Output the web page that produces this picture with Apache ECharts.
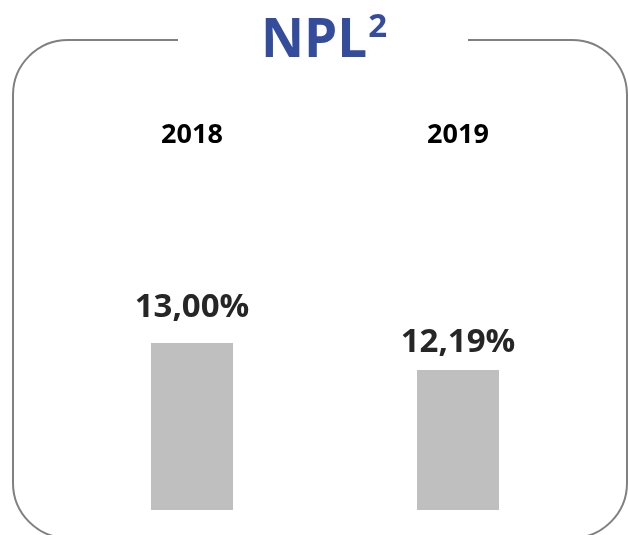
<!DOCTYPE html>
<html>
<head>
<meta charset="utf-8">
<script src="https://cdn.jsdelivr.net/npm/echarts@6/dist/echarts.min.js"></script>
<style>
  html, body { margin: 0; padding: 0; background: #fff; }
  #chart { width: 628px; height: 535px; }
</style>
</head>
<body>
<div id="chart"></div>
<script>
// categories and values
var years = ['2018', '2019']
var npl = [13.00, 12.19]
var labelGap = [19, 11]

var chart = echarts.init(document.getElementById('chart'))

function fmt(v) {
  return v.toFixed(2).replace('.', ',') + '%'
}

chart.setOption({
  backgroundColor: '#fff',
  animation: false,
  title: {
    text: '{a|NPL}{b|2}',
    left: 256,
    top: 6,
    z: 10,
    textStyle: {
      rich: {
        a: { fontFamily: 'Open Sans', fontWeight: 'bold', fontSize: 53, color: '#344C9C', verticalAlign: 'bottom' },
        b: { fontFamily: 'Open Sans', fontWeight: 'bold', fontSize: 33, color: '#344C9C', verticalAlign: 'top', padding: [0, 0, 24, 1] }
      }
    }
  },
  graphic: [
    {
      type: 'rect',
      z: 0,
      shape: { x: 13, y: 40, width: 614, height: 498, r: 55 },
      style: { fill: 'none', stroke: '#808080', lineWidth: 2 }
    },
    {
      type: 'rect',
      z: 1,
      shape: { x: 178, y: 34, width: 290, height: 12 },
      style: { fill: '#fff' }
    }
  ],
  grid: {
    left: 59,
    right: 37,
    top: 150,
    bottom: 25
  },
  xAxis: {
    type: 'category',
    position: 'top',
    data: years,
    axisLine: { show: false },
    axisTick: { show: false },
    axisLabel: {
      margin: 1,
      fontFamily: 'Open Sans',
      fontWeight: 'bold',
      fontSize: 27,
      color: '#000'
    }
  },
  yAxis: {
    type: 'value',
    min: 8,
    max: 18.78,
    show: false,
    splitLine: { show: false }
  },
  series: [{
    type: 'bar',
    barWidth: 82,
    itemStyle: { color: '#BFBFBF' },
    data: npl.map(function (v, i) {
      return {
        value: v,
        label: {
          show: true,
          position: 'top',
          distance: labelGap[i],
          formatter: function (p) { return fmt(p.value) },
          fontFamily: 'Open Sans',
          fontWeight: 'bold',
          fontSize: 33,
          color: '#262626'
        }
      }
    })
  }]
})
</script>
</body>
</html>
